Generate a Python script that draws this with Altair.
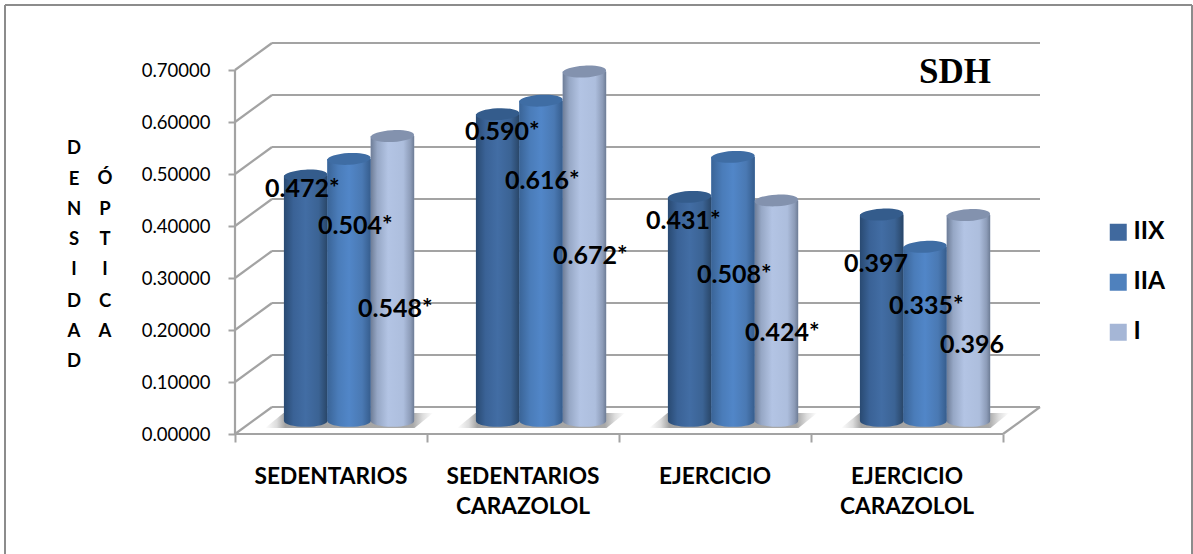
import altair as alt
import pandas as pd

# Optical density per fibre type and group
groups = ["SEDENTARIOS", "SEDENTARIOS CARAZOLOL", "EJERCICIO", "EJERCICIO CARAZOLOL"]
series = ["IIX", "IIA", "I"]
values_iix = [0.472, 0.590, 0.431, 0.397]
values_iia = [0.504, 0.616, 0.508, 0.335]
values_i = [0.548, 0.672, 0.424, 0.396]
value_labels = ["0.472*", "0.504*", "0.548*", "0.590*", "0.616*", "0.672*",
                "0.431*", "0.508*", "0.424*", "0.397", "0.335*", "0.396"]
y_ticks = [0.0, 0.1, 0.2, 0.3, 0.4, 0.5, 0.6, 0.7]
x_ticks = [0, 1, 2, 3, 4]

# Hand-placed value labels, in axis units: left edge and vertical middle
label_left = [0.156, 0.432, 0.641, 1.198, 1.406, 1.656, 2.141, 2.406, 2.656, 3.172, 3.406, 3.672]
label_mid = [0.471, 0.400, 0.240, 0.581, 0.487, 0.342, 0.410, 0.306, 0.194, 0.327, 0.246, 0.171]

# Category captions, one row per line of text
caption_x = [0.5, 1.5, 1.5, 2.5, 3.5, 3.5]
caption_text = ["SEDENTARIOS", "SEDENTARIOS", "CARAZOLOL", "EJERCICIO", "EJERCICIO", "CARAZOLOL"]
caption_y = [-0.083, -0.083, -0.140, -0.083, -0.083, -0.140]

# Vertical axis caption, stacked letter by letter in two columns
title_letters_a = list("DENSIDAD")
title_rows_a = [148, 179, 209, 239, 269, 301, 331, 361]
title_letters_b = list("ÓPTICA")
title_rows_b = [178, 209, 239, 269, 301, 331]

# Layout
LEFT, BASELINE = 235, 434
WIDTH, HEIGHT = 958, 434
PX_PER_GROUP, PX_PER_UNIT = 192.0, 520.0
DEPTH_X, DEPTH_Y = 37 / PX_PER_GROUP, 27 / PX_PER_UNIT
BAR_W = 43.4 / PX_PER_GROUP
BAR_SHIFT_X, BAR_SHIFT_Y = 0.594, 13 / PX_PER_UNIT
FONT = "Lato"
GRID = "#a3a3a3"

x_scale = alt.Scale(domain=[0, WIDTH / PX_PER_GROUP], nice=False, zero=False)
y_scale = alt.Scale(domain=[0, HEIGHT / PX_PER_UNIT], nice=False, zero=False)
x_axis = alt.Axis(values=x_ticks, labels=False, domain=False, grid=False, title="",
                  ticks=True, tickSize=8, tickColor=GRID, tickWidth=2)
y_axis = alt.Axis(values=y_ticks, format=".5f", domain=False, grid=False, title="",
                  ticks=True, tickSize=7, tickColor=GRID, tickWidth=2, labelPadding=18,
                  labelFont=FONT, labelFontSize=18.5, labelFontWeight="normal", labelColor="#000000")


def x_of(field):
    return alt.X(field, type="quantitative", scale=x_scale, axis=x_axis)


def y_of(field):
    return alt.Y(field, type="quantitative", scale=y_scale, axis=y_axis)


x_enc = x_of("x")
y_enc = y_of("y")


def pixel_y(py):
    return (BASELINE - py) / PX_PER_UNIT


def pixel_x(px):
    return (px - LEFT) / PX_PER_GROUP


# Cylinder table
rows = []
for s_i, (name, vals) in enumerate(zip(series, [values_iix, values_iia, values_i])):
    for g_i, v in enumerate(vals):
        cx = g_i + BAR_SHIFT_X + (s_i - 1) * BAR_W
        rows.append({"series": name, "value": v, "x": cx - BAR_W / 2, "x2": cx + BAR_W / 2,
                     "cx": cx, "y": v + BAR_SHIFT_Y, "y2": BAR_SHIFT_Y})
bars = pd.DataFrame(rows)


def stops(pairs):
    return [alt.GradientStop(offset=o, color=c) for o, c in pairs]


def horizontal(pairs):
    return alt.LinearGradient(gradient="linear", x1=0, x2=1, y1=0, y2=0, stops=stops(pairs))


cylinder_fill = {
    "IIX": horizontal([(0, "#294a72"), (0.22, "#3a6296"), (0.5, "#426da4"), (0.8, "#3b6394"), (1, "#294668")]),
    "IIA": horizontal([(0, "#3a6497"), (0.25, "#4a7cb9"), (0.5, "#5186c8"), (0.8, "#4a79b3"), (1, "#365d8d")]),
    "I": horizontal([(0, "#6e7d97"), (0.15, "#96a7c5"), (0.4, "#b3c4e4"), (0.75, "#adbedd"), (0.92, "#8c9bb7"), (1, "#6d7c95")]),
}
cap_fill = {"IIX": "#345c8c", "IIA": "#3f6da4", "I": "#8392ae"}
legend_colors = ["#40699e", "#4f81bd", "#a5b6d6"]

ELLIPSE = "M-1,0 A1,0.27,0,1,1,1,0 A1,0.27,0,1,1,-1,0 Z"
ELLIPSE_SIZE = 43.4 ** 2
FLOOR_SHADOW = "M-0.78,-0.09 L1,-0.09 L0.78,0.09 L-1,0.09 Z"

# Back wall, side wall and floor lines
grid_rows = []
for t in y_ticks:
    grid_rows.append({"x": DEPTH_X, "x2": 4 + DEPTH_X, "y": t + DEPTH_Y, "y2": t + DEPTH_Y})
    grid_rows.append({"x": 0, "x2": DEPTH_X, "y": t, "y2": t + DEPTH_Y})
grid_rows.append({"x": 4, "x2": 4 + DEPTH_X, "y": 0, "y2": DEPTH_Y})
grid_rows.append({"x": 0, "x2": 4, "y": 0, "y2": 0})
grid_rows.append({"x": 0, "x2": 0, "y": 0, "y2": 0.7})
grid = pd.DataFrame(grid_rows)

grid_lines = alt.Chart(grid).mark_rule(color=GRID, strokeWidth=2.2).encode(
    x=x_enc, x2="x2:Q", y=y_enc, y2="y2:Q")

# Outer frame: open along the bottom of the page
frame_rows = [
    {"x0": -230, "x1": -230, "y0": 5, "y1": 560},
    {"x0": -230, "x1": 957, "y0": 5, "y1": 5},
    {"x0": 957, "x1": 957, "y0": 5, "y1": 560},
]
frame = [
    alt.Chart(pd.DataFrame({"k": [0]})).mark_rule(color="#8c8c8c", strokeWidth=2).encode(
        x=alt.value(r["x0"]), x2=alt.value(r["x1"]), y=alt.value(r["y0"]), y2=alt.value(r["y1"]))
    for r in frame_rows
]

# Soft shadow cast on the floor under each cluster
shadow_fill = horizontal([(0, "#ffffff"), (0.07, "#dcdcdc"), (0.12, "#a2a2a2"), (0.88, "#a8a8a8"), (0.94, "#dedede"), (1, "#ffffff")])
shadows = alt.Chart(pd.DataFrame({"x": [g + BAR_SHIFT_X for g in range(4)], "y": [pixel_y(420.5)] * 4})).mark_point(
    filled=True, fill=shadow_fill, shape=FLOOR_SHADOW, size=168 ** 2, opacity=1, strokeWidth=0
).encode(x=x_enc, y=y_enc)

# Flat bars carry the colour scale for the legend and sit beneath the shaded cylinders
flat = alt.Chart(bars).mark_rect().encode(
    x=x_enc, x2="x2:Q", y=y_enc, y2="y2:Q",
    color=alt.Color("series:N", scale=alt.Scale(domain=series, range=legend_colors), legend=alt.Legend(
        title=None, orient="none", legendX=871, legendY=220, symbolType="square", symbolSize=289,
        symbolStrokeWidth=0, labelFont=FONT, labelFontSize=24.5, labelFontWeight="bold",
        labelColor="#000000", rowPadding=25, labelOffset=3)),
)

cylinders = []
for name in series:
    sub = alt.Chart(bars[bars["series"] == name])
    body = sub.mark_rect(fill=cylinder_fill[name], strokeWidth=0).encode(x=x_enc, x2="x2:Q", y=y_enc, y2="y2:Q")
    bottom = sub.mark_point(filled=True, fill=cylinder_fill[name], shape=ELLIPSE, size=ELLIPSE_SIZE,
                            opacity=1, strokeWidth=0).encode(x=x_of("cx"), y=y_of("y2"))
    top = sub.mark_point(filled=True, fill=cap_fill[name], shape=ELLIPSE, size=ELLIPSE_SIZE,
                         opacity=1, strokeWidth=0, angle=357).encode(x=x_of("cx"), y=y_enc)
    cylinders += [body, bottom, top]

# Text
value_text = alt.Chart(pd.DataFrame({"x": label_left, "y": label_mid, "t": value_labels})).mark_text(
    align="left", baseline="middle", font=FONT, fontWeight="bold", fontSize=25, color="#000000"
).encode(x=x_enc, y=y_enc, text="t:N")

captions = alt.Chart(pd.DataFrame({"x": caption_x, "y": caption_y, "t": caption_text})).mark_text(
    align="center", baseline="middle", font=FONT, fontWeight="bold", fontSize=22.7, color="#000000"
).encode(x=x_enc, y=y_enc, text="t:N")

title_rows = pd.DataFrame({
    "x": [pixel_x(74)] * len(title_letters_a) + [pixel_x(105)] * len(title_letters_b),
    "y": [pixel_y(p) for p in title_rows_a + title_rows_b],
    "t": title_letters_a + title_letters_b,
})
axis_title = alt.Chart(title_rows).mark_text(
    align="center", baseline="middle", font=FONT, fontWeight="bold", fontSize=18.5, color="#000000"
).encode(x=x_enc, y=y_enc, text="t:N")

sdh = alt.Chart(pd.DataFrame({"x": [pixel_x(955)], "y": [pixel_y(72)], "t": ["SDH"]})).mark_text(
    align="center", baseline="middle", font="Liberation Serif", fontWeight="bold", fontSize=35, color="#000000"
).encode(x=x_enc, y=y_enc, text="t:N")

chart = alt.layer(
    grid_lines, *frame, shadows, flat, *cylinders, value_text, captions, axis_title, sdh
).properties(
    width=WIDTH, height=HEIGHT,
    autosize=alt.AutoSizeParams(type="none"),
    padding={"left": LEFT, "top": 0, "right": 0, "bottom": 120},
    background="#ffffff",
).configure_view(stroke=None)

chart.save("out.html", embed_options={"renderer": "svg", "actions": False})
